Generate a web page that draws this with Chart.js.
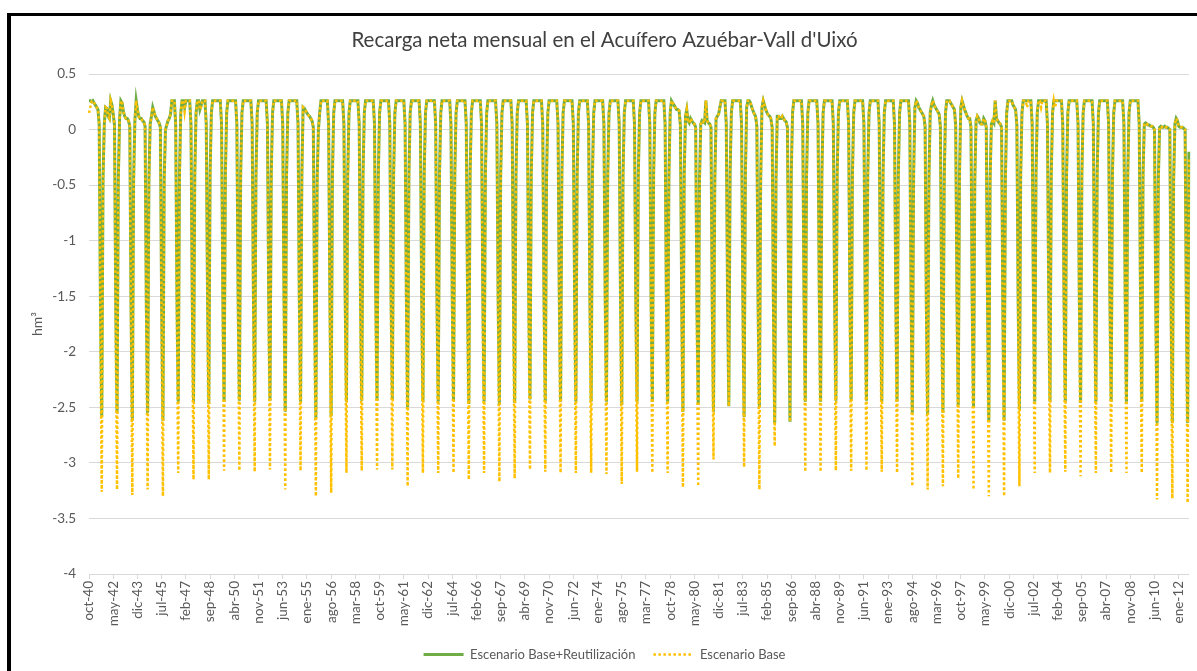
<!DOCTYPE html>
<html>
<head>
<meta charset="utf-8">
<script src="https://cdn.jsdelivr.net/npm/chart.js@4.4.1/dist/chart.umd.min.js"></script>
<style>
  html, body { margin: 0; padding: 0; background: #fff; overflow: hidden; }
  #wrap { position: relative; width: 1197px; height: 671px; }
  #marco {
    position: absolute; left: 7px; top: 13px; width: 1300px; height: 800px;
    border-left: 4px solid #000; border-top: 3px solid #000; pointer-events: none;
  }
</style>
</head>
<body>
<div id="wrap">
  <canvas id="recargaChart" width="1197" height="671"></canvas>
  <div id="marco"></div>
</div>
<script>
// meses del año hidrológico (oct-40 ... sep-12)
const nombresMes = ["ene", "feb", "mar", "abr", "may", "jun", "jul", "ago", "sep", "oct", "nov", "dic"];
const anioInicio = 1940;
const anioFin = 2012;

// Escenario Base+Reutilización (hm3), una fila por año hidrológico oct..sep
const recargaReutilizacion = [
  .26, .26, .25, .26, .24, .22, .2, .18, .05, -1.6, -2.58, -.45,
  .05, .2, .19, .12, .1, .26, .22, .14, .04, -1.6, -2.55, -.45,
  .1, .26, .24, .16, .12, .1, .1, .08, .03, -1.6, -2.62, -.45,
  .08, .26, .18, .12, .1, .1, .08, .07, .03, -1.6, -2.55, -.45,
  .05, .12, .2, .16, .12, .1, .08, .06, .02, -1.6, -2.62, -.45,
  0, .04, .08, .1, .14, .26, .26, .26, .05, -1.5, -2.45, -.4,
  .15, .26, .26, .2, .26, .26, .26, .26, .05, -1.5, -2.45, -.4,
  .15, .26, .26, .18, .22, .26, .26, .26, .05, -1.5, -2.47, -.4,
  .15, .26, .26, .26, .26, .26, .26, .26, .05, -1.5, -2.45, -.4,
  .15, .26, .26, .26, .26, .26, .26, .26, .05, -1.5, -2.44, -.4,
  .15, .26, .26, .26, .26, .26, .26, .26, .05, -1.5, -2.45, -.4,
  .15, .26, .26, .26, .26, .26, .26, .26, .05, -1.5, -2.44, -.4,
  .15, .26, .26, .26, .26, .26, .26, .26, .05, -1.5, -2.54, -.4,
  .15, .26, .26, .26, .26, .26, .26, .26, .05, -1.5, -2.45, -.4,
  .2, .19, .17, .15, .13, .12, .1, .08, .02, -1.6, -2.6, -.45,
  0, .15, .26, .26, .26, .26, .26, .26, .05, -1.5, -2.58, -.4,
  .15, .26, .26, .26, .26, .26, .26, .26, .05, -1.5, -2.45, -.4,
  .15, .26, .26, .26, .26, .26, .26, .26, .05, -1.5, -2.44, -.4,
  .15, .26, .26, .26, .26, .26, .26, .26, .05, -1.5, -2.44, -.4,
  .15, .26, .26, .26, .26, .26, .26, .26, .05, -1.5, -2.43, -.4,
  .15, .26, .26, .26, .26, .26, .26, .26, .05, -1.5, -2.5, -.4,
  .15, .26, .26, .26, .26, .26, .26, .26, .05, -1.5, -2.45, -.4,
  .15, .26, .26, .26, .26, .26, .26, .26, .05, -1.5, -2.45, -.4,
  .15, .26, .26, .26, .26, .26, .26, .26, .05, -1.5, -2.44, -.4,
  .15, .26, .26, .26, .26, .26, .26, .26, .05, -1.5, -2.47, -.4,
  .15, .26, .26, .26, .26, .26, .26, .26, .05, -1.5, -2.45, -.4,
  .15, .26, .26, .26, .26, .26, .26, .26, .05, -1.5, -2.48, -.4,
  .15, .26, .26, .26, .26, .26, .26, .26, .05, -1.5, -2.46, -.4,
  .15, .26, .26, .26, .26, .26, .26, .26, .05, -1.5, -2.43, -.4,
  .15, .26, .26, .26, .26, .26, .26, .26, .05, -1.5, -2.45, -.4,
  .15, .26, .26, .26, .26, .26, .26, .26, .05, -1.5, -2.45, -.4,
  .15, .26, .26, .26, .26, .26, .26, .26, .05, -1.5, -2.45, -.4,
  .15, .26, .26, .26, .26, .26, .26, .26, .05, -1.5, -2.45, -.4,
  .15, .26, .26, .26, .26, .26, .26, .26, .05, -1.5, -2.45, -.4,
  .15, .26, .26, .26, .26, .26, .26, .26, .05, -1.5, -2.48, -.4,
  .15, .26, .26, .26, .26, .26, .26, .26, .05, -1.5, -2.45, -.4,
  .15, .26, .26, .26, .26, .26, .26, .26, .05, -1.5, -2.45, -.4,
  .15, .26, .26, .26, .26, .26, .26, .26, .05, -1.5, -2.45, -.4,
  .15, .26, .24, .22, .2, .18, .18, .17, .04, -1.5, -2.54, -.4,
  .12, .18, .08, .06, .1, .08, .06, .05, .02, -1.6, -2.47, -.45,
  .05, .08, .07, .06, .26, .08, .06, .05, .02, -1.6, -2.54, -.45,
  .1, .12, .14, .2, .26, .26, .26, .26, .05, -1.5, -2.49, -.4,
  .15, .26, .26, .26, .26, .26, .26, .26, .05, -1.5, -2.59, -.4,
  .2, .26, .26, .24, .2, .17, .14, .12, .03, -1.6, -2.5, -.45,
  .2, .26, .22, .18, .15, .13, .12, .1, .02, -1.6, -2.64, -.45,
  .12, .12, .1, .1, .12, .1, .08, .07, .02, -1.6, -2.63, -.4,
  .15, .26, .26, .26, .26, .26, .26, .26, .05, -1.5, -2.45, -.4,
  .15, .26, .26, .26, .26, .26, .26, .26, .05, -1.5, -2.45, -.4,
  .15, .26, .26, .26, .26, .26, .26, .26, .05, -1.5, -2.44, -.4,
  .15, .26, .26, .26, .26, .26, .26, .26, .05, -1.5, -2.44, -.4,
  .15, .26, .26, .26, .26, .26, .26, .26, .05, -1.5, -2.44, -.4,
  .15, .26, .26, .26, .26, .26, .26, .26, .05, -1.5, -2.45, -.4,
  .15, .26, .26, .26, .26, .26, .26, .26, .05, -1.5, -2.45, -.4,
  .15, .26, .26, .26, .26, .26, .26, .26, .05, -1.5, -2.55, -.4,
  .2, .26, .24, .2, .18, .16, .14, .12, .03, -1.6, -2.56, -.45,
  .15, .22, .26, .22, .2, .18, .16, .14, .03, -1.6, -2.55, -.45,
  .15, .26, .26, .26, .24, .22, .2, .18, .04, -1.5, -2.48, -.4,
  .2, .26, .22, .18, .15, .12, .1, .1, .02, -1.6, -2.49, -.45,
  .08, .12, .1, .06, .05, .05, .1, .08, .02, -1.6, -2.62, -.45,
  .05, .08, .06, .26, .1, .08, .06, .05, .02, -1.6, -2.62, -.45,
  .15, .26, .26, .26, .26, .22, .2, .18, .04, -1.5, -2.52, -.4,
  .15, .26, .26, .26, .26, .26, .26, .26, .05, -1.5, -2.45, -.4,
  .15, .26, .26, .26, .26, .26, .26, .26, .05, -1.5, -2.45, -.4,
  .15, .26, .26, .26, .26, .26, .26, .26, .05, -1.5, -2.45, -.4,
  .15, .26, .26, .26, .26, .26, .26, .26, .05, -1.5, -2.46, -.4,
  .15, .26, .26, .26, .26, .26, .26, .26, .05, -1.5, -2.45, -.4,
  .15, .26, .26, .26, .26, .26, .26, .26, .05, -1.5, -2.45, -.4,
  .15, .26, .26, .26, .26, .26, .26, .26, .05, -1.5, -2.45, -.4,
  .15, .26, .26, .26, .26, .26, .26, .26, .05, -1.5, -2.45, -.4,
  .05, .06, .05, .04, .04, .03, .03, .02, 0, -1.6, -2.64, -.45,
  .02, .03, .02, .02, .03, .02, .02, .01, 0, -1.6, -2.64, -.45,
  .05, .1, .08, .03, .02, .02, .02, .01, 0, -1.6, -2.64, -.2,
];

// Escenario Base (hm3)
const recargaBase = [
  .15, .2, .25, .26, .24, .22, .2, .18, .05, -1.9, -3.26, -.55,
  .05, .2, .19, .12, .1, .26, .22, .14, .04, -1.9, -3.24, -.55,
  .1, .26, .24, .16, .12, .1, .1, .08, .03, -1.9, -3.29, -.55,
  .08, .26, .18, .12, .1, .1, .08, .07, .03, -1.9, -3.24, -.55,
  .05, .12, .2, .16, .12, .1, .08, .06, .02, -1.9, -3.3, -.55,
  0, .04, .08, .1, .14, .26, .26, .26, .05, -1.8, -3.09, -.5,
  .15, .26, .26, .16, .26, .26, .26, .26, .05, -1.8, -3.15, -.5,
  .15, .26, .26, .18, .2, .26, .26, .26, .05, -1.8, -3.15, -.5,
  .15, .26, .26, .26, .26, .26, .26, .26, .05, -1.8, -3.07, -.5,
  .15, .26, .26, .26, .26, .26, .26, .26, .05, -1.8, -3.07, -.5,
  .15, .26, .26, .26, .26, .26, .26, .26, .05, -1.8, -3.08, -.5,
  .15, .26, .26, .26, .26, .26, .26, .26, .05, -1.8, -3.06, -.5,
  .15, .26, .26, .26, .26, .26, .26, .26, .05, -1.8, -3.24, -.5,
  .15, .26, .26, .26, .26, .26, .26, .26, .05, -1.8, -3.07, -.5,
  .2, .19, .17, .15, .13, .12, .1, .08, .02, -1.9, -3.3, -.55,
  0, .15, .26, .26, .26, .26, .26, .26, .05, -1.8, -3.27, -.5,
  .15, .26, .26, .26, .26, .26, .26, .26, .05, -1.8, -3.09, -.5,
  .15, .26, .26, .26, .26, .26, .26, .26, .05, -1.8, -3.07, -.5,
  .15, .26, .26, .26, .26, .26, .26, .26, .05, -1.8, -3.06, -.5,
  .15, .26, .26, .26, .26, .26, .26, .26, .05, -1.8, -3.06, -.5,
  .15, .26, .26, .26, .26, .26, .26, .26, .05, -1.8, -3.21, -.5,
  .15, .26, .26, .26, .26, .26, .26, .26, .05, -1.8, -3.09, -.5,
  .15, .26, .26, .26, .26, .26, .26, .26, .05, -1.8, -3.09, -.5,
  .15, .26, .26, .26, .26, .26, .26, .26, .05, -1.8, -3.09, -.5,
  .15, .26, .26, .26, .26, .26, .26, .26, .05, -1.8, -3.15, -.5,
  .15, .26, .26, .26, .26, .26, .26, .26, .05, -1.8, -3.09, -.5,
  .15, .26, .26, .26, .26, .26, .26, .26, .05, -1.8, -3.17, -.5,
  .15, .26, .26, .26, .26, .26, .26, .26, .05, -1.8, -3.14, -.5,
  .15, .26, .26, .26, .26, .26, .26, .26, .05, -1.8, -3.06, -.5,
  .15, .26, .26, .26, .26, .26, .26, .26, .05, -1.8, -3.08, -.5,
  .15, .26, .26, .26, .26, .26, .26, .26, .05, -1.8, -3.09, -.5,
  .15, .26, .26, .26, .26, .26, .26, .26, .05, -1.8, -3.09, -.5,
  .15, .26, .26, .26, .26, .26, .26, .26, .05, -1.8, -3.09, -.5,
  .15, .26, .26, .26, .26, .26, .26, .26, .05, -1.8, -3.1, -.5,
  .15, .26, .26, .26, .26, .26, .26, .26, .05, -1.8, -3.19, -.5,
  .15, .26, .26, .26, .26, .26, .26, .26, .05, -1.8, -3.08, -.5,
  .15, .26, .26, .26, .26, .26, .26, .26, .05, -1.8, -3.09, -.5,
  .15, .26, .26, .26, .26, .26, .26, .26, .05, -1.8, -3.09, -.5,
  .15, .26, .24, .22, .2, .18, .18, .17, .04, -1.8, -3.22, -.5,
  .12, .18, .08, .06, .1, .08, .06, .05, .02, -1.9, -3.21, -.55,
  .05, .08, .07, .06, .26, .08, .06, .05, .02, -1.9, -2.97, -.55,
  .1, .12, .14, .2, .26, .26, .26, .26, .05, -1.5, -2.49, -.4,
  .15, .26, .26, .26, .26, .26, .26, .26, .05, -1.8, -3.04, -.5,
  .2, .26, .26, .24, .2, .17, .14, .12, .03, -1.9, -3.24, -.55,
  .2, .26, .22, .18, .15, .13, .12, .1, .02, -1.9, -2.85, -.55,
  .12, .12, .1, .1, .12, .1, .08, .07, .02, -1.6, -2.63, -.4,
  .15, .26, .26, .26, .26, .26, .26, .26, .05, -1.8, -3.08, -.5,
  .15, .26, .26, .26, .26, .26, .26, .26, .05, -1.8, -3.08, -.5,
  .15, .26, .26, .26, .26, .26, .26, .26, .05, -1.8, -3.07, -.5,
  .15, .26, .26, .26, .26, .26, .26, .26, .05, -1.8, -3.07, -.5,
  .15, .26, .26, .26, .26, .26, .26, .26, .05, -1.8, -3.07, -.5,
  .15, .26, .26, .26, .26, .26, .26, .26, .05, -1.8, -3.08, -.5,
  .15, .26, .26, .26, .26, .26, .26, .26, .05, -1.8, -3.09, -.5,
  .15, .26, .26, .26, .26, .26, .26, .26, .05, -1.8, -3.21, -.5,
  .2, .26, .24, .2, .18, .16, .14, .12, .03, -1.9, -3.24, -.55,
  .15, .22, .26, .22, .2, .18, .16, .14, .03, -1.9, -3.21, -.55,
  .15, .26, .26, .26, .24, .22, .2, .18, .04, -1.8, -3.14, -.5,
  .2, .26, .22, .18, .15, .12, .1, .1, .02, -1.9, -3.24, -.55,
  .08, .12, .1, .06, .05, .05, .1, .08, .02, -1.9, -3.3, -.55,
  .05, .08, .06, .26, .1, .08, .06, .05, .02, -1.9, -3.3, -.55,
  .15, .26, .26, .26, .26, .22, .2, .18, .04, -1.8, -3.21, -.5,
  .15, .26, .26, .26, .2, .26, .26, .26, .05, -1.8, -3.09, -.5,
  .15, .26, .26, .2, .26, .26, .26, .26, .05, -1.8, -3.09, -.5,
  .15, .26, .2, .26, .26, .26, .26, .26, .05, -1.8, -3.08, -.5,
  .15, .26, .26, .26, .26, .26, .26, .26, .05, -1.8, -3.12, -.5,
  .15, .26, .26, .26, .26, .26, .26, .26, .05, -1.8, -3.09, -.5,
  .15, .26, .26, .26, .26, .26, .26, .26, .05, -1.8, -3.09, -.5,
  .15, .26, .26, .26, .26, .26, .26, .26, .05, -1.8, -3.09, -.5,
  .15, .26, .26, .26, .26, .26, .26, .26, .05, -1.8, -3.09, -.5,
  .05, .06, .05, .04, .04, .03, .03, .02, 0, -1.9, -3.33, -.55,
  .02, .03, .02, .02, .03, .02, .02, .01, 0, -1.9, -3.32, -.55,
  .05, .1, .08, .03, .02, .02, .02, .01, 0, -1.9, -3.36, -.25,
];

// etiquetas mensuales "oct-40", "nov-40", ...
const meses = [];
for (let anio = anioInicio; anio < anioFin; anio++) {
  [9, 10, 11].forEach((m) => meses.push(`${nombresMes[m]}-${String(anio % 100).padStart(2, "0")}`));
  for (let m = 0; m < 9; m++) {
    meses.push(`${nombresMes[m]}-${String((anio + 1) % 100).padStart(2, "0")}`);
  }
}

const pasoEtiqueta = 19; // Excel muestra una etiqueta cada 19 meses
const colorTexto = "#595959";
const colorRejilla = "#d9d9d9";

const ctx = document.getElementById("recargaChart").getContext("2d");

new Chart(ctx, {
  type: "line",
  data: {
    labels: meses,
    datasets: [
      {
        label: "Escenario Base",
        data: recargaBase,
        borderColor: "#ffc000",
        backgroundColor: "#ffc000",
        borderWidth: 2.5,
        borderDash: [2.5, 2.5],
        pointRadius: 0,
        tension: 0,
      },
      {
        label: "Escenario Base+Reutilización",
        data: recargaReutilizacion,
        borderColor: "#70ad47",
        backgroundColor: "#70ad47",
        borderWidth: 3,
        pointRadius: 0,
        tension: 0,
      },
    ],
  },
  options: {
    responsive: false,
    animation: false,
    devicePixelRatio: 1,
    layout: {
      padding: { left: 20, right: 8, top: 20, bottom: 0 },
    },
    plugins: {
      title: {
        display: true,
        text: "Recarga neta mensual en el Acuífero Azuébar-Vall d'Uixó",
        color: "#404040",
        font: { family: "Lato", size: 20.5, weight: "normal" },
        padding: { top: 8, bottom: 21.4 },
      },
      legend: {
        position: "bottom",
        labels: {
          color: colorTexto,
          font: { family: "Lato", size: 13 },
          usePointStyle: true,
          pointStyleWidth: 40,
          padding: 18,
          generateLabels: (chart) =>
            chart.data.datasets
              .map((ds, i) => ({
                text: ds.label,
                datasetIndex: i,
                fillStyle: ds.borderColor,
                strokeStyle: ds.borderColor,
                lineWidth: ds.borderWidth,
                lineDash: ds.borderDash || [],
                pointStyle: "line",
                hidden: false,
                fontColor: colorTexto,
              }))
              .reverse(),
        },
      },
      tooltip: { enabled: false },
    },
    scales: {
      x: {
        grid: {
          display: true,
          drawOnChartArea: false,
          drawTicks: true,
          tickLength: 5,
          color: colorRejilla,
        },
        border: { color: colorRejilla },
        ticks: {
          autoSkip: false,
          maxRotation: 90,
          minRotation: 90,
          padding: 2,
          color: colorTexto,
          font: { family: "Lato", size: 13.5 },
          callback: (valor, i) => (i % pasoEtiqueta === 0 ? meses[i] : null),
        },
        afterFit: (escala) => {
          escala.height = 56;
        },
      },
      y: {
        min: -4,
        max: 0.5,
        grid: { color: colorRejilla, drawTicks: false },
        border: { display: false },
        ticks: {
          stepSize: 0.5,
          padding: 13,
          color: colorTexto,
          font: { family: "Lato", size: 13.5 },
          callback: (valor) => String(valor),
        },
        title: {
          display: true,
          text: "hm³",
          color: colorTexto,
          font: { family: "Lato", size: 14 },
          padding: { top: 9, bottom: 0 },
        },
        afterFit: (escala) => {
          escala.width = 69;
        },
      },
    },
  },
});
</script>
</body>
</html>
